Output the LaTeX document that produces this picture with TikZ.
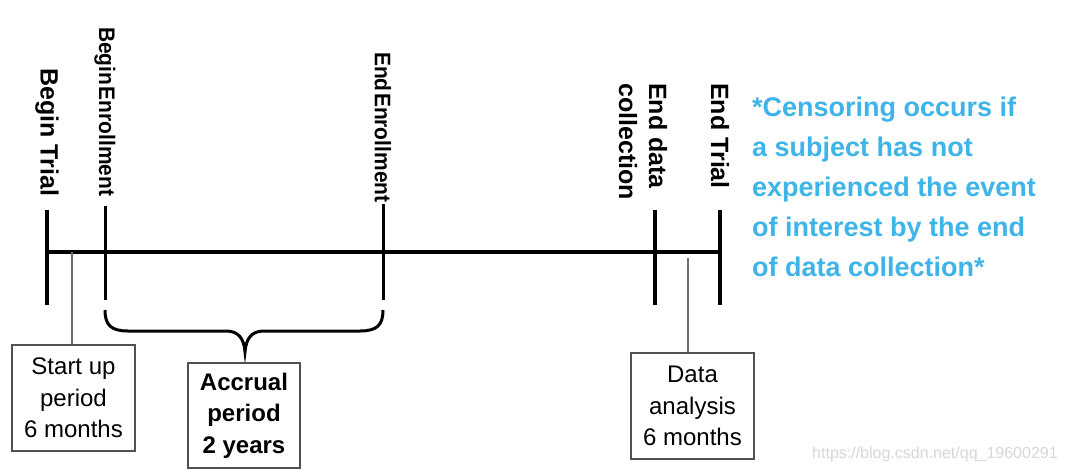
\documentclass[tikz,border=0pt]{standalone}
\usepackage{fontspec}
\setmainfont{Liberation Sans}
\definecolor{censor}{RGB}{62,180,232}
\definecolor{boxgray}{RGB}{80,80,80}
\definecolor{conngray}{RGB}{110,110,110}
\definecolor{wmgray}{RGB}{215,215,215}
\begin{document}
\begin{tikzpicture}[x=1pt,y=-1pt,
  tickline/.style={line width=4pt},
  etickline/.style={line width=3pt},
  lab/.style={rotate=-90,anchor=west,inner sep=0pt,font=\fontsize{25}{30}\selectfont\bfseries},
  elab/.style={lab,font=\fontsize{22.5}{26}\selectfont\bfseries},
  box/.style={draw=boxgray,line width=1.5pt,minimum width=123pt,minimum height=106pt,align=center,inner sep=0pt,font=\fontsize{24}{31.5}\selectfont},
  conn/.style={draw=conngray,line width=1.5pt},
  brace/.style={line width=3pt}]
\fill[white] (0,0) rectangle (1066,472);
\useasboundingbox (0,0) rectangle (1066,472);
% timeline
\coordinate (L) at (47,252);
\coordinate (R) at (720,252);
\draw[tickline] (L) -- (R);
% ticks
\coordinate (btT) at (47,210); \coordinate (btB) at (47,305);
\coordinate (beT) at (105,206); \coordinate (beB) at (105,300);
\coordinate (eeT) at (383,204); \coordinate (eeB) at (383,300);
\coordinate (edT) at (655,210); \coordinate (edB) at (655,305);
\coordinate (etT) at (720,210); \coordinate (etB) at (720,305);
\draw[tickline] (btT) -- (btB);
\draw[etickline] (beT) -- (beB);
\draw[etickline] (eeT) -- (eeB);
\draw[tickline] (edT) -- (edB);
\draw[tickline] (etT) -- (etB);
% labels
\node[lab] (btl) at (47,68) {Begin Trial};
\node[elab] (bel) at (105,27) {\scalebox{0.93}[1]{Begin\hspace{1.5pt}Enrollment}};
\node[elab] (eel) at (383,52) {\scalebox{0.93}[1]{End\hspace{1.5pt}Enrollment}};
\node[lab,align=left] (edl) at (643,83) {End data\\collection};
\node[lab] (etl) at (720,83) {End Trial};
% brace
\coordinate (b1) at (105,310);
\coordinate (b2) at (128,331);
\coordinate (b3) at (226,331);
\coordinate (bm) at (245,352);
\coordinate (b4) at (264,331);
\coordinate (b5) at (360,331);
\coordinate (b6) at (383,310);
\draw[brace] (b1) .. controls (105,325) and (111,331) .. (b2) -- (b3)
  .. controls (238,331) and (244,338) .. (bm)
  .. controls (246,338) and (252,331) .. (b4) -- (b5)
  .. controls (377,331) and (383,325) .. (b6);
% boxes
\node[box] (sb) at (73.5,398) {Start up\\period\\6 months};
\node[box,minimum width=112pt,minimum height=105pt,font=\fontsize{24}{31.5}\selectfont\bfseries] (ab) at (244,415.5) {Accrual\\period\\2 years};
\node[box] (db) at (692.5,406) {Data\\analysis\\6 months};
% connectors
\coordinate (su) at (72,252);
\draw[conn] (su) -- (su |- sb.north);
\coordinate (da) at (688,258);
\draw[conn] (da) -- (da |- db.north);
% note
\node[anchor=north west,inner sep=0pt,align=left,text=censor,font=\fontsize{27}{40}\selectfont\bfseries] (note) at (752,97) {*Censoring occurs if\\a subject has not\\experienced the event\\of interest by the end\\of data collection*};
% watermark
\node[anchor=base west,inner sep=0pt,text=wmgray,font=\fontsize{16}{20}\selectfont] (wm) at (812,458) {https://blog.csdn.net/qq\_19600291};
\end{tikzpicture}
\end{document}
